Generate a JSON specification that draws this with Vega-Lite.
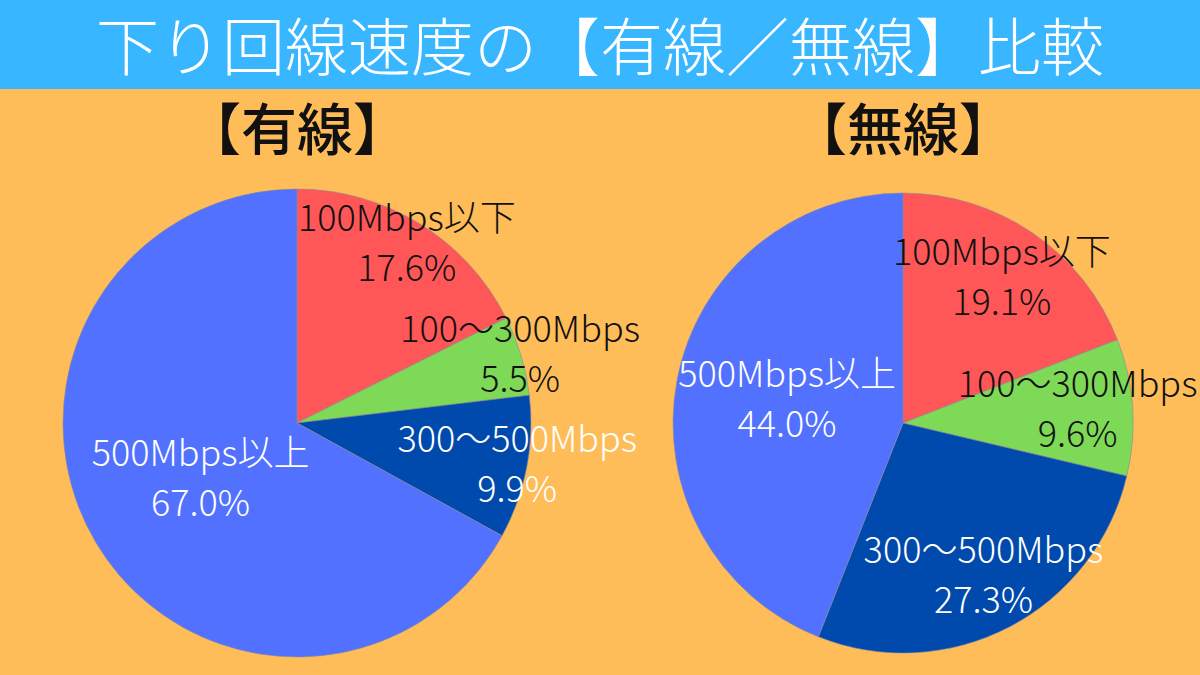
{
  "$schema": "https://vega.github.io/schema/vega-lite/v6.json",
  "background": "#FFBD59",
  "padding": 0,
  "spacing": 82,
  "bounds": "flush",
  "config": {
    "view": {"stroke": null},
    "font": "Noto Sans CJK JP"
  },
  "datasets": {
    "header": [{"title": "下り回線速度の【有線／無線】比較"}],
    "speed": [
      {"conn": "有線", "rank": 1, "band": "100Mbps以下", "share": 0.176},
      {"conn": "有線", "rank": 2, "band": "100～300Mbps", "share": 0.055},
      {"conn": "有線", "rank": 3, "band": "300～500Mbps", "share": 0.099},
      {"conn": "有線", "rank": 4, "band": "500Mbps以上", "share": 0.670},
      {"conn": "無線", "rank": 1, "band": "100Mbps以下", "share": 0.191},
      {"conn": "無線", "rank": 2, "band": "100～300Mbps", "share": 0.096},
      {"conn": "無線", "rank": 3, "band": "300～500Mbps", "share": 0.273},
      {"conn": "無線", "rank": 4, "band": "500Mbps以上", "share": 0.440}
    ]
  },
  "vconcat": [
    {
      "width": 1200,
      "height": 89,
      "view": {"fill": "#38B6FF", "stroke": null},
      "data": {"name": "header"},
      "mark": {"type": "text", "fontSize": 63, "fontWeight": 300, "color": "white", "dy": 6},
      "encoding": {"text": {"field": "title"}}
    },
    {
      "spacing": 12,
      "bounds": "flush",
      "resolve": {"scale": {"radius": "independent", "theta": "independent"}},
      "hconcat": [
        {
          "width": 594,
          "height": 504,
          "title": {"text": "【有線】", "fontSize": 56, "fontWeight": 500, "color": "#111", "offset": 9, "anchor": "middle"},
          "data": {"name": "speed"},
          "transform": [{"filter": "datum.conn === '有線'"}],
          "encoding": {
            "theta": {"field": "share", "type": "quantitative", "stack": true},
            "order": {"field": "rank", "type": "quantitative"}
          },
          "layer": [
            {
              "mark": {"type": "arc", "outerRadius": 234, "stroke": "#8a8a9a", "strokeWidth": 0.6},
              "encoding": {
                "color": {
                  "field": "band",
                  "type": "nominal",
                  "scale": {"domain": ["100Mbps以下", "100～300Mbps", "300～500Mbps", "500Mbps以上"], "range": ["#FF5757", "#7ED957", "#004AAD", "#5271FF"]},
                  "legend": null
                }
              }
            },
            {
              "mark": {"type": "text", "fontSize": 36, "fontWeight": 300, "dy": -25},
              "encoding": {
                "text": {"field": "band"},
                "radius": {"field": "share", "type": "quantitative", "scale": {"type": "linear", "zero": false, "domain": [0.05, 0.67], "range": [234, 112]}},
                "color": {"condition": {"test": "datum.rank >= 3", "value": "white"}, "value": "#111"}
              }
            },
            {
              "mark": {"type": "text", "fontSize": 36, "fontWeight": 300, "dy": 25},
              "encoding": {
                "text": {"field": "share", "type": "quantitative", "format": ".1%"},
                "radius": {"field": "share", "type": "quantitative"},
                "color": {"condition": {"test": "datum.rank >= 3", "value": "white"}, "value": "#111"}
              }
            }
          ]
        },
        {
          "width": 594,
          "height": 504,
          "title": {"text": "【無線】", "fontSize": 56, "fontWeight": 500, "color": "#111", "offset": 9, "anchor": "middle"},
          "data": {"name": "speed"},
          "transform": [{"filter": "datum.conn === '無線'"}],
          "encoding": {
            "theta": {"field": "share", "type": "quantitative", "stack": true},
            "order": {"field": "rank", "type": "quantitative"}
          },
          "layer": [
            {
              "mark": {"type": "arc", "outerRadius": 230, "stroke": "#8a8a9a", "strokeWidth": 0.6},
              "encoding": {
                "color": {
                  "field": "band",
                  "type": "nominal",
                  "scale": {"domain": ["100Mbps以下", "100～300Mbps", "300～500Mbps", "500Mbps以上"], "range": ["#FF5757", "#7ED957", "#004AAD", "#5271FF"]},
                  "legend": null
                }
              }
            },
            {
              "mark": {"type": "text", "fontSize": 36, "fontWeight": 300, "dy": -25},
              "encoding": {
                "text": {"field": "band"},
                "radius": {"field": "share", "type": "quantitative", "scale": {"type": "linear", "zero": false, "clamp": true, "domain": [0.27, 0.44], "range": [175, 118]}},
                "color": {"condition": {"test": "datum.rank >= 3", "value": "white"}, "value": "#111"}
              }
            },
            {
              "mark": {"type": "text", "fontSize": 36, "fontWeight": 300, "dy": 25},
              "encoding": {
                "text": {"field": "share", "type": "quantitative", "format": ".1%"},
                "radius": {"field": "share", "type": "quantitative"},
                "color": {"condition": {"test": "datum.rank >= 3", "value": "white"}, "value": "#111"}
              }
            }
          ]
        }
      ]
    }
  ]
}
